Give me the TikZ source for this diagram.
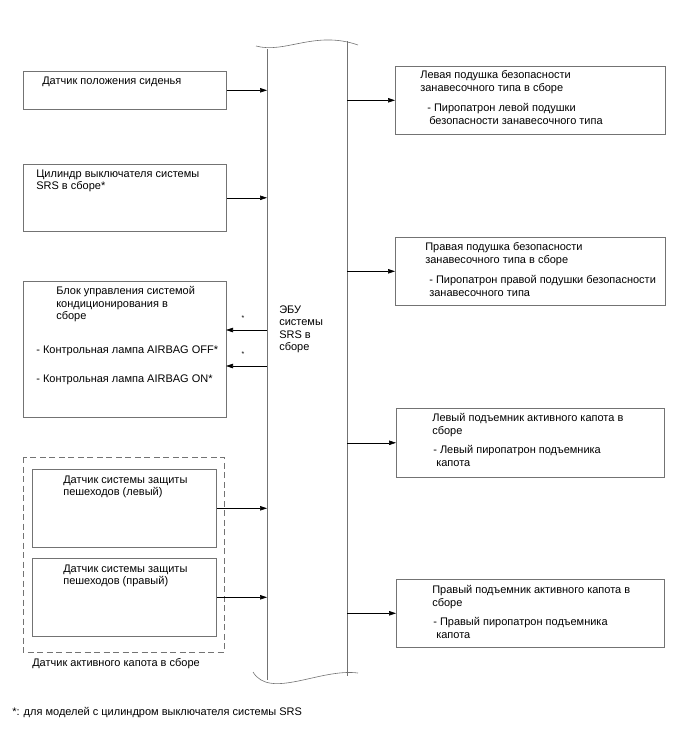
\documentclass[tikz,border=0pt]{standalone}
\usepackage{fontspec}
\setmainfont{Liberation Sans}
\usetikzlibrary{arrows.meta}

\definecolor{linegray}{gray}{0.45}

\begin{document}
\begin{tikzpicture}[x=1pt,y=-1pt,line width=0.6pt,>={Triangle[length=7pt,width=4.5pt]},
  font=\fontsize{11}{12.5}\selectfont]
\tikzset{
  unitbox/.style 2 args={draw=linegray,minimum width=#1,minimum height=#2,
    anchor=north west,inner sep=0pt},
  txt/.style={anchor=north west,inner sep=0pt,align=left,yshift=-1.5pt},
  star/.style={inner sep=0pt,font=\fontsize{7}{7}\selectfont},
}
\useasboundingbox (0,0) rectangle (688,755);
% ---------- SRS ECU bus ----------
\coordinate (busl) at (267,0);
\coordinate (busr) at (347,0);
\draw[linegray] (267,49) -- (267,680);
\draw[linegray] (347,41) -- (347,676);
\draw[linegray] (256,46) .. controls (285,54) and (315,30) .. (358,45);
\draw[linegray] (253,672) .. controls (270,700) and (320,668) .. (358,673);
\node[txt] (ecu) at (279,304) {ЭБУ\\системы\\SRS в\\сборе};
% ---------- inputs ----------
\node[unitbox={203pt}{38pt}] (seat) at (23,71) {};
\node[txt] at (42,75) {Датчик положения сиденья};
\draw[->] (seat.east) -- (seat.east -| busl);
\node[unitbox={203pt}{67pt}] (switch) at (23,164) {};
\node[txt] at (36,168) {Цилиндр выключателя системы\\SRS в сборе*};
\draw[->] (switch.east) -- (switch.east -| busl);
% air conditioning unit (outputs from ECU)
\node[unitbox={203pt}{136pt}] (hvac) at (23,281) {};
\node[txt] at (56,285) {Блок управления системой\\кондиционирования в\\сборе};
\node[txt] at (36,344) {- Контрольная лампа AIRBAG OFF*};
\node[txt] at (36,373) {- Контрольная лампа AIRBAG ON*};
\coordinate (offin) at (226,330);
\coordinate (onin) at (226,366);
\draw[->] (offin -| busl) -- (offin);
\draw[->] (onin -| busl) -- (onin);
\node[star] at (243,318) {*};
\node[star] at (243,354) {*};
% pedestrian sensors
\draw[linegray,dash pattern=on 6pt off 3.5pt] (23,457) rectangle (224,652);
\node[unitbox={184pt}{78pt}] (pedl) at (32,469) {};
\node[txt] at (63,474) {Датчик системы защиты\\пешеходов (левый)};
\draw[->] (pedl.east) -- (pedl.east -| busl);
\node[unitbox={184pt}{78pt}] (pedr) at (32,558) {};
\node[txt] at (63,563) {Датчик системы защиты\\пешеходов (правый)};
\draw[->] (pedr.east) -- (pedr.east -| busl);
\node[anchor=west,inner sep=0pt] at (32,664) {Датчик активного капота в сборе};
% ---------- outputs ----------
\node[unitbox={270pt}{68pt}] (curl) at (395,66) {};
\node[txt] at (420,69) {Левая подушка безопасности\\занавесочного типа в сборе};
\node[txt] at (427,102) {- Пиропатрон левой подушки\\\hspace*{2pt}безопасности занавесочного типа};
\draw[->] (curl.west -| busr) -- (curl.west);
\node[unitbox={270pt}{68pt}] (curr) at (395,237) {};
\node[txt] at (425,241) {Правая подушка безопасности\\занавесочного типа в сборе};
\node[txt] at (429,274) {- Пиропатрон правой подушки безопасности\\занавесочного типа};
\draw[->] (curr.west -| busr) -- (curr.west);
\node[unitbox={268pt}{69pt}] (hoodl) at (396,408) {};
\node[txt] at (432,412) {Левый подъемник активного капота в\\сборе};
\node[txt] at (433,444) {- Левый пиропатрон подъемника\\\hspace*{3pt}капота};
\draw[->] (hoodl.west -| busr) -- (hoodl.west);
\node[unitbox={268pt}{68pt}] (hoodr) at (396,579) {};
\node[txt] at (432,584) {Правый подъемник активного капота в\\сборе};
\node[txt] at (433,616) {- Правый пиропатрон подъемника\\\hspace*{3pt}капота};
\draw[->] (hoodr.west -| busr) -- (hoodr.west);
% footnote
\node[anchor=west,inner sep=0pt] at (12,713) {*: для моделей с цилиндром выключателя системы SRS};
\end{tikzpicture}
\end{document}
